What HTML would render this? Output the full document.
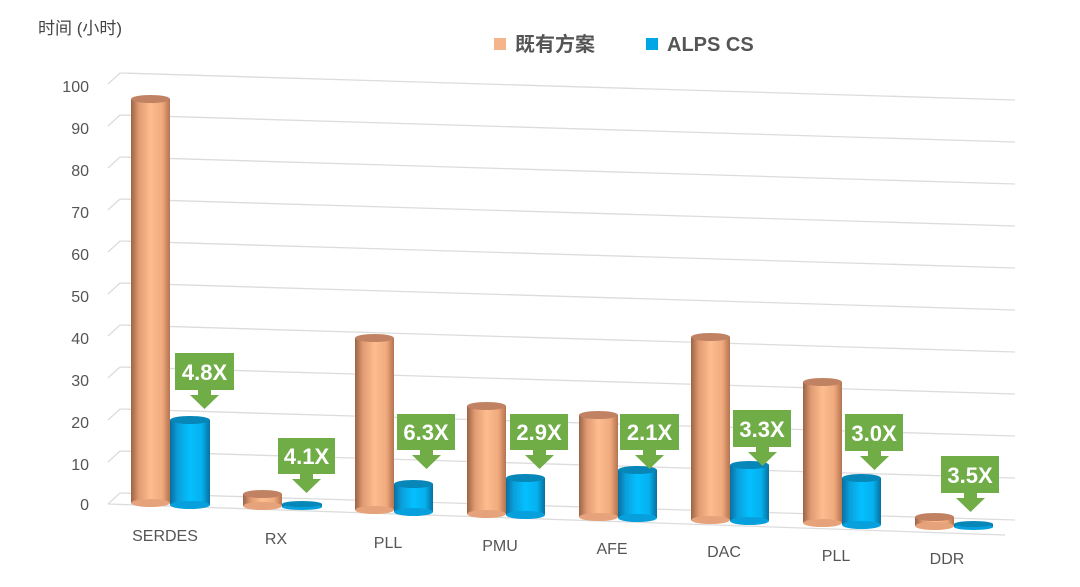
<!DOCTYPE html>
<html><head><meta charset="utf-8"><style>
html,body{margin:0;padding:0;background:#fff}
svg{display:block}
text{font-family:"Liberation Sans","Noto Sans CJK SC",sans-serif}
</style></head><body>
<svg width="1080" height="587" viewBox="0 0 1080 587" xmlns="http://www.w3.org/2000/svg">
<defs>
<linearGradient id="og" x1="0" x2="1" y1="0" y2="0">
<stop offset="0" stop-color="#9a6446"/><stop offset="0.2" stop-color="#e09a72"/><stop offset="0.5" stop-color="#fdbd8e"/><stop offset="0.8" stop-color="#f0aa7e"/><stop offset="1" stop-color="#b4744f"/></linearGradient>
<linearGradient id="bg" x1="0" x2="1" y1="0" y2="0">
<stop offset="0" stop-color="#0a6e9e"/><stop offset="0.2" stop-color="#0aa0dc"/><stop offset="0.5" stop-color="#04c0ff"/><stop offset="0.8" stop-color="#06b0ee"/><stop offset="1" stop-color="#07709f"/></linearGradient>
</defs>
<text x="38" y="34" font-size="17" fill="#444">时间 (小时)</text>
<rect x="494" y="38" width="12" height="12" fill="#f5b48a"/>
<text x="515" y="51" font-size="20" font-weight="bold" fill="#555">既有方案</text>
<rect x="646" y="38" width="12" height="12" fill="#00a6e6"/>
<text x="667" y="51" font-size="20" font-weight="bold" fill="#555">ALPS CS</text>
<g stroke="#dcdcdc" stroke-width="1.3" fill="none">
<polyline points="108,84 120,73 1015,100"/>
<polyline points="108,126 120,115 1015,142"/>
<polyline points="108,168 120,157 1015,184"/>
<polyline points="108,210 120,199 1015,226"/>
<polyline points="108,252 120,241 1015,268"/>
<polyline points="108,294 120,283 1015,310"/>
<polyline points="108,336 120,325 1015,352"/>
<polyline points="108,378 120,367 1015,394"/>
<polyline points="108,420 120,409 1015,436"/>
<polyline points="108,462 120,451 1015,478"/>
<polyline points="108,504 120,493 1015,520"/>
<line x1="108" y1="504" x2="1005" y2="535"/>
</g>
<g font-size="16" fill="#555" text-anchor="end">
<text x="89" y="92">100</text><text x="89" y="134">90</text><text x="89" y="176">80</text><text x="89" y="218">70</text>
<text x="89" y="260">60</text><text x="89" y="302">50</text><text x="89" y="344">40</text><text x="89" y="386">30</text>
<text x="89" y="428">20</text><text x="89" y="470">10</text><text x="89" y="510">0</text>
</g>
<g font-size="16" fill="#555" text-anchor="middle">
<text x="165" y="541">SERDES</text><text x="276" y="544">RX</text><text x="388" y="548">PLL</text><text x="500" y="551">PMU</text>
<text x="612" y="554">AFE</text><text x="724" y="557">DAC</text><text x="836" y="561">PLL</text><text x="947" y="564">DDR</text>
</g>
<!-- cylinders -->
<g>
<!-- SERDES -->
<rect x="131" y="99" width="39" height="404" fill="url(#og)"/><ellipse cx="150.5" cy="503" rx="19.5" ry="4" fill="#e6a27a"/><ellipse cx="150.5" cy="99" rx="19.5" ry="4" fill="#c08262"/>
<rect x="170" y="420" width="40" height="85" fill="url(#bg)"/><ellipse cx="190" cy="505" rx="20" ry="4" fill="#07a0dc"/><ellipse cx="190" cy="420" rx="20" ry="4" fill="#0786b8"/>
<!-- RX -->
<rect x="243" y="494" width="39" height="12" fill="url(#og)"/><ellipse cx="262.5" cy="506" rx="19.5" ry="4" fill="#e6a27a"/><ellipse cx="262.5" cy="494" rx="19.5" ry="4" fill="#c08262"/>
<rect x="282" y="504" width="40" height="3" fill="url(#bg)"/><ellipse cx="302" cy="507" rx="20" ry="3" fill="#07a0dc"/><ellipse cx="302" cy="504" rx="20" ry="3" fill="#0786b8"/>
<!-- PLL -->
<rect x="355" y="338" width="39" height="172" fill="url(#og)"/><ellipse cx="374.5" cy="510" rx="19.5" ry="4" fill="#e6a27a"/><ellipse cx="374.5" cy="338" rx="19.5" ry="4" fill="#c08262"/>
<rect x="394" y="484" width="39" height="28" fill="url(#bg)"/><ellipse cx="413.5" cy="512" rx="19.5" ry="4" fill="#07a0dc"/><ellipse cx="413.5" cy="484" rx="19.5" ry="4" fill="#0786b8"/>
<!-- PMU -->
<rect x="467" y="406" width="39" height="108" fill="url(#og)"/><ellipse cx="486.5" cy="514" rx="19.5" ry="4" fill="#e6a27a"/><ellipse cx="486.5" cy="406" rx="19.5" ry="4" fill="#c08262"/>
<rect x="506" y="478" width="39" height="37" fill="url(#bg)"/><ellipse cx="525.5" cy="515" rx="19.5" ry="4" fill="#07a0dc"/><ellipse cx="525.5" cy="478" rx="19.5" ry="4" fill="#0786b8"/>
<!-- AFE -->
<rect x="579" y="415" width="39" height="102" fill="url(#og)"/><ellipse cx="598.5" cy="517" rx="19.5" ry="4" fill="#e6a27a"/><ellipse cx="598.5" cy="415" rx="19.5" ry="4" fill="#c08262"/>
<rect x="618" y="470" width="39" height="48" fill="url(#bg)"/><ellipse cx="637.5" cy="518" rx="19.5" ry="4" fill="#07a0dc"/><ellipse cx="637.5" cy="470" rx="19.5" ry="4" fill="#0786b8"/>
<!-- DAC -->
<rect x="691" y="337" width="39" height="183" fill="url(#og)"/><ellipse cx="710.5" cy="520" rx="19.5" ry="4" fill="#e6a27a"/><ellipse cx="710.5" cy="337" rx="19.5" ry="4" fill="#c08262"/>
<rect x="730" y="465" width="39" height="56" fill="url(#bg)"/><ellipse cx="749.5" cy="521" rx="19.5" ry="4" fill="#07a0dc"/><ellipse cx="749.5" cy="465" rx="19.5" ry="4" fill="#0786b8"/>
<!-- PLL -->
<rect x="803" y="382" width="39" height="141" fill="url(#og)"/><ellipse cx="822.5" cy="523" rx="19.5" ry="4" fill="#e6a27a"/><ellipse cx="822.5" cy="382" rx="19.5" ry="4" fill="#c08262"/>
<rect x="842" y="478" width="39" height="47" fill="url(#bg)"/><ellipse cx="861.5" cy="525" rx="19.5" ry="4" fill="#07a0dc"/><ellipse cx="861.5" cy="478" rx="19.5" ry="4" fill="#0786b8"/>
<!-- DDR -->
<rect x="915" y="517" width="39" height="9" fill="url(#og)"/><ellipse cx="934.5" cy="526" rx="19.5" ry="4" fill="#e6a27a"/><ellipse cx="934.5" cy="517" rx="19.5" ry="4" fill="#c08262"/>
<rect x="954" y="524" width="39" height="3" fill="url(#bg)"/><ellipse cx="973.5" cy="527" rx="19.5" ry="3" fill="#07a0dc"/><ellipse cx="973.5" cy="524" rx="19.5" ry="3" fill="#0786b8"/>
</g>
<!-- callouts -->
<g fill="#70ad47">
<rect x="175" y="353" width="59" height="37"/><polygon points="198,390 211,390 211,395 219,395 204.5,409 190,395 198,395"/>
<rect x="278" y="438" width="57" height="36"/><polygon points="300,474 313,474 313,479 321,479 306.5,493 292,479 300,479"/>
<rect x="397" y="414" width="58" height="36"/><polygon points="420,450 433,450 433,455 441,455 426.5,469 412,455 420,455"/>
<rect x="510" y="414" width="58" height="36"/><polygon points="533,450 546,450 546,455 554,455 539.5,469 525,455 533,455"/>
<rect x="620" y="414" width="59" height="36"/><polygon points="643,450 656,450 656,455 664,455 649.5,469 635,455 643,455"/>
<rect x="733" y="410" width="58" height="37"/><polygon points="756,447 769,447 769,452 777,452 762.5,466 748,452 756,452"/>
<rect x="845" y="414" width="58" height="37"/><polygon points="868,451 881,451 881,456 889,456 874.5,470 860,456 868,456"/>
<rect x="941" y="456" width="58" height="37"/><polygon points="964,493 977,493 977,498 985,498 970.5,512 956,498 964,498"/>
</g>
<g font-size="22" font-weight="bold" fill="#fff" text-anchor="middle">
<text x="204.5" y="380">4.8X</text><text x="306.5" y="464">4.1X</text><text x="426" y="440">6.3X</text>
<text x="539" y="440">2.9X</text><text x="649.5" y="440">2.1X</text><text x="762" y="437">3.3X</text>
<text x="874" y="441">3.0X</text><text x="970" y="483">3.5X</text>
</g>
</svg>
</body></html>
